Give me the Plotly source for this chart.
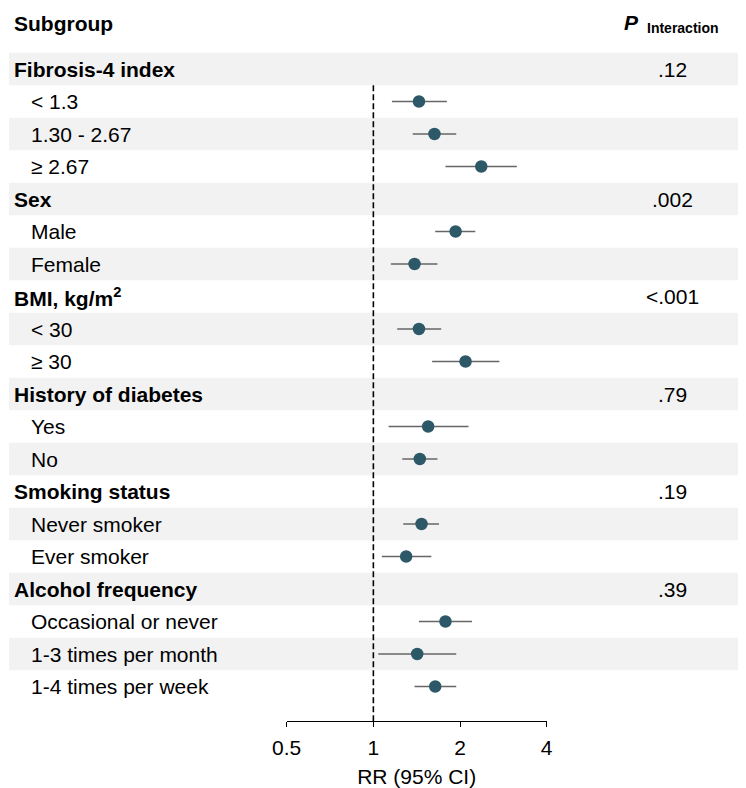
import math
import plotly.graph_objects as go

# ---------------- data ----------------
rows = [
    "Fibrosis-4 index", "< 1.3", "1.30 - 2.67", "≥ 2.67",
    "Sex", "Male", "Female",
    "BMI, kg/m<sup>2</sup>", "< 30", "≥ 30",
    "History of diabetes", "Yes", "No",
    "Smoking status", "Never smoker", "Ever smoker",
    "Alcohol frequency", "Occasional or never", "1-3 times per month", "1-4 times per week",
]
is_header = [True, False, False, False,
             True, False, False,
             True, False, False,
             True, False, False,
             True, False, False,
             True, False, False, False]
p_interaction = [".12", "", "", "",
                 ".002", "", "",
                 "<.001", "", "",
                 ".79", "", "",
                 ".19", "", "",
                 ".39", "", "", ""]
rr = [None, 1.44, 1.63, 2.37,
      None, 1.93, 1.39,
      None, 1.44, 2.09,
      None, 1.55, 1.45,
      None, 1.47, 1.30,
      None, 1.78, 1.42, 1.64]
ci_low = [None, 1.16, 1.37, 1.78,
          None, 1.64, 1.15,
          None, 1.21, 1.60,
          None, 1.13, 1.26,
          None, 1.27, 1.07,
          None, 1.44, 1.04, 1.39]
ci_high = [None, 1.80, 1.94, 3.15,
           None, 2.26, 1.67,
           None, 1.72, 2.74,
           None, 2.14, 1.67,
           None, 1.69, 1.59,
           None, 2.20, 1.94, 1.94]
x_ticks = [0.5, 1, 2, 4]
x_tick_labels = ["0.5", "1", "2", "4"]

# ---------------- layout helpers ----------------
FONT = "Liberation Sans, Arial, Helvetica, sans-serif"
W, H = 746, 788
OFF = 8            # page margin of the html body
ROW0 = 69          # reference pixel centre of first row
ROWH = 32.5        # row height in pixels
AXIS_REF = 721     # reference pixel of the x axis line


def xp(px):
    """reference x pixel -> paper fraction"""
    return (px - OFF) / W


def yrow(px):
    """reference y pixel -> row coordinate"""
    return 1 + (px - ROW0) / ROWH


row_pos = list(range(1, len(rows) + 1))

fig = go.Figure()

px_, py_, em, ep = [], [], [], []
for i, v in enumerate(rr):
    if v is None:
        continue
    px_.append(v)
    py_.append(row_pos[i])
    em.append(v - ci_low[i])
    ep.append(ci_high[i] - v)

fig.add_trace(go.Scatter(
    x=px_, y=py_, mode="markers",
    marker=dict(size=12.5, color="#2D5867", line=dict(width=0)),
    error_x=dict(type="data", symmetric=False, array=ep, arrayminus=em,
                 width=0, thickness=1.6, color="#666666"),
    showlegend=False, hoverinfo="skip", cliponaxis=False,
))

shapes = []
for i, r in enumerate(row_pos):
    if i % 2 == 0:
        shapes.append(dict(type="rect", xref="paper", yref="y",
                           x0=xp(9), x1=1, y0=r - 0.5, y1=r + 0.5,
                           fillcolor="#F2F2F2", line=dict(width=0), layer="below"))
y_axis_bottom = yrow(AXIS_REF)
shapes.append(dict(type="line", xref="x", yref="y",
                   x0=1, x1=1, y0=1.5, y1=y_axis_bottom,
                   line=dict(color="black", width=1.6, dash="6px,3px"), layer="below"))

annotations = []
for i, r in enumerate(row_pos):
    hdr = is_header[i]
    annotations.append(dict(
        x=xp(12 if hdr else 29), xref="paper", y=r, yref="y",
        text=f"<b>{rows[i]}</b>" if hdr else rows[i],
        showarrow=False, xanchor="left", yanchor="middle",
        font=dict(family=FONT, size=21, color="black"),
    ))
    if p_interaction[i]:
        annotations.append(dict(
            x=xp(672), xref="paper", y=r, yref="y",
            text=p_interaction[i], showarrow=False,
            xanchor="center", yanchor="middle",
            font=dict(family=FONT, size=21, color="black"),
        ))

annotations.append(dict(x=xp(12), xref="paper", y=yrow(23), yref="y",
                        text="<b>Subgroup</b>", showarrow=False,
                        xanchor="left", yanchor="middle",
                        font=dict(family=FONT, size=21, color="black")))
annotations.append(dict(x=xp(622), xref="paper", y=yrow(22.5), yref="y",
                        text="<b><i>P</i></b>", showarrow=False,
                        xanchor="left", yanchor="middle",
                        font=dict(family=FONT, size=21, color="black")))
annotations.append(dict(x=xp(645), xref="paper", y=yrow(27.5), yref="y",
                        text="<b>Interaction</b>", showarrow=False,
                        xanchor="left", yanchor="middle",
                        font=dict(family=FONT, size=14, color="black")))

fig.update_layout(
    width=W, height=H, autosize=False,
    margin=dict(l=0, r=0, t=0, b=0, pad=0, autoexpand=False),
    paper_bgcolor="white", plot_bgcolor="white",
    shapes=shapes, annotations=annotations,
    font=dict(family=FONT, color="black"),
    xaxis=dict(
        type="log", range=[math.log10(0.5), math.log10(4)],
        domain=[xp(286.7), xp(546.7)],
        tickvals=x_ticks, ticktext=x_tick_labels,
        showline=True, linecolor="black", linewidth=1.2,
        ticks="outside", ticklen=5, tickwidth=1.2, tickcolor="black",
        ticklabelstandoff=3,
        showgrid=False, zeroline=False, automargin=False,
        tickfont=dict(family=FONT, size=21, color="black"),
        title=dict(text="RR (95% CI)", standoff=11,
                   font=dict(family=FONT, size=21, color="black")),
    ),
    yaxis=dict(
        range=[y_axis_bottom, yrow(OFF)],
        domain=[(H - (AXIS_REF - OFF)) / H, 1],
        visible=False, showgrid=False, zeroline=False, automargin=False,
    ),
)

fig.write_html("out.html")
